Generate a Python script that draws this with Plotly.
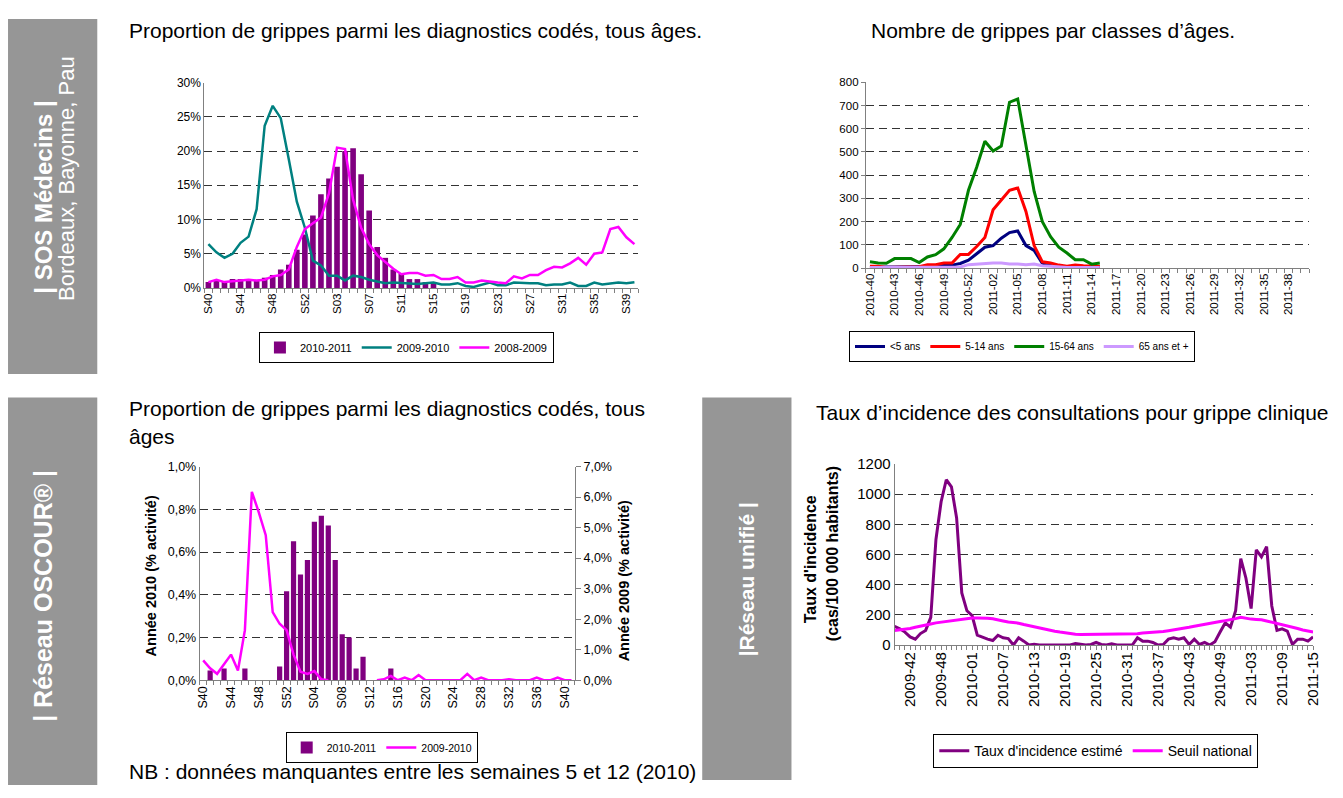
import plotly.graph_objects as go

# ---------------- DATA ----------------
# Chart 1 : SOS Médecins, proportion of flu among coded diagnoses (%)
WEEKS_SOS = [f"S{w:02d}" for w in range(40, 54)] + [f"S{w:02d}" for w in range(1, 41)]
SOS_2010_2011 = [0.86, 1.1, 0.86, 1.3, 1.3, 1.2, 1.1, 1.5, 1.9, 2.7, 3.4, 5.6, 7.8, 10.6,
                 13.7, 16.0, 17.7, 20.0, 20.4, 16.6, 11.3, 6.0, 4.4, 2.7, 2.1, 1.3, 1.3, 0.86, 0.86]
SOS_2009_2010 = [6.4, 5.2, 4.4, 5.0, 6.6, 7.5, 11.5, 23.7, 26.6, 24.8,
                 18.8, 12.6, 8.8, 4.0, 3.3, 1.8, 1.8, 1.1, 1.8, 1.6,
                 1.2, 0.9, 0.7, 0.8, 0.7, 0.7, 0.6, 0.7, 0.8, 0.5,
                 0.5, 0.7, 0.3, 0.15, 0.5, 0.8, 0.4, 0.4, 0.8, 0.7,
                 0.7, 0.7, 0.4, 0.5, 0.5, 0.8, 0.3, 0.3, 0.8, 0.5,
                 0.6, 0.8, 0.7, 0.85]
SOS_2008_2009 = [0.86, 1.2, 0.86, 1.0, 1.1, 1.2, 1.1, 1.2, 1.7, 1.9,
                 2.7, 6.0, 8.6, 9.5, 10.3, 13.8, 20.5, 20.3, 12.9, 8.8,
                 6.4, 4.8, 3.8, 2.8, 2.0, 2.2, 2.2, 1.8, 1.9, 1.3,
                 1.3, 1.6, 0.8, 0.8, 1.1, 0.9, 0.8, 0.7, 1.7, 1.4,
                 1.9, 1.9, 2.6, 3.1, 3.0, 3.6, 4.4, 3.4, 5.0, 5.2,
                 8.6, 8.9, 7.4, 6.4]
SOS_TICK_STEP = 4

# Chart 2 : number of flu cases by age class
WEEKS_AGE = [f"2010-{w:02d}" for w in range(40, 54)] + [f"2011-{w:02d}" for w in range(1, 41)]
AGE_LT5 = [3, 5, 5, 5, 5, 5, 5, 5, 8, 13, 13, 20, 34, 62, 90, 97, 129, 153, 160, 97,
           76, 20, 13, 8, 5, 5, 5, 5, 5]
AGE_5_14 = [8, 8, 3, 3, 6, 6, 6, 15, 15, 22, 22, 59, 59, 93, 132, 251, 293, 335, 345, 244,
            97, 27, 22, 13, 8, 13, 10, 8, 7]
AGE_15_64 = [27, 22, 21, 41, 41, 41, 24, 48, 58, 83, 132, 188, 335, 434, 546, 504, 525, 714, 728, 520,
             330, 200, 135, 90, 65, 36, 36, 17, 22]
AGE_65P = [3, 3, 3, 3, 3, 3, 3, 3, 3, 3, 3, 5, 15, 18, 20, 22, 22, 18, 18, 15,
           18, 10, 8, 5, 3, 3, 3, 3, 3]
AGE_TICK_STEP = 3

# Chart 3 : OSCOUR network (%)
WEEKS_OSC = [f"S{w:02d}" for w in range(40, 53)] + [f"S{w:02d}" for w in range(1, 42)]
OSC_2010_2011 = [0, 0.046, 0, 0.055, 0, 0, 0.055, 0, 0, 0, 0, 0.064, 0.417, 0.65,
                 0.495, 0.563, 0.742, 0.77, 0.724, 0.563, 0.215, 0.2, 0.055, 0.11, 0, 0, 0, 0.055]
OSC_2009_2010 = [0.65, 0.39, 0.21, 0.51, 0.84, 0.32, 1.64, 6.17, 5.5, 4.75,
                 2.23, 1.85, 1.64, 0.84, 0.28, 0.21, 0.3, 0.03, 0.0,
                 None, None, None, None, None, None,
                 0, 0.03, 0.14, 0, 0.09, 0, 0.17, 0, 0, 0,
                 0, 0, 0, 0.21, 0, 0.09, 0, 0, 0, 0.03,
                 0, 0, 0, 0.09, 0, 0, 0.09, 0, 0]
OSC_TICK_STEP = 4

# Chart 4 : unified network, incidence rate
WEEKS_INC = ([f"2009-{w:02d}" for w in range(39, 54)] + [f"2010-{w:02d}" for w in range(1, 53)]
             + [f"2011-{w:02d}" for w in range(1, 16)])
INCIDENCE = [123, 108, 86, 54, 39, 76, 97, 184, 700, 950,
             1096, 1049, 843, 346, 227, 195, 65, 50, 39, 30,
             65, 48, 43, 0, 48, 26, 0, 5, 0, 0,
             0, 0, 0, 0, 0, 10, 4, 0, 4, 17,
             4, 0, 9, 0, 0, 0, 0, 48, 26, 26,
             17, 0, 4, 39, 48, 39, 48, 4, 39, 4,
             17, 0, 22, 86, 147, 119, 227, 573, 443, 242,
             631, 584, 653, 259, 97, 108, 93, 4, 39, 39,
             26, 54]
SEUIL = [97, 100, 105, 110, 118, 127, 134, 140, 147, 152,
         158, 162, 167, 172, 177, 180, 180, 180, 178, 174,
         169, 160, 153, 150, 145, 136, 128, 120, 112, 105,
         98, 92, 86, 80, 75, 72, 70, 70, 70, 70,
         70, 70, 70, 70, 70, 70, 70, 75, 80, 82,
         84, 86, 90, 95, 100, 106, 112, 118, 125, 132,
         138, 145, 150, 156, 162, 167, 175, 184, 176, 172,
         170, 168, 160, 152, 145, 138, 130, 120, 110, 100,
         95, 86]
INC_TICK_START, INC_TICK_STEP = 3, 6

# ---------------- STYLE ----------------
PAGE_W, PAGE_H, BODY_MARGIN = 1343, 798, 8
W, H = PAGE_W - 2 * BODY_MARGIN, PAGE_H - 2 * BODY_MARGIN
FONT = "Arial, 'Liberation Sans', sans-serif"
PURPLE, TEAL, MAGENTA = "#800080", "#008080", "#FF00FF"
NAVY, RED, GREEN, LAV = "#000080", "#FF0000", "#008000", "#CC99FF"
BOX = "#969696"
GRID = dict(showgrid=True, gridcolor="#333333", gridwidth=1, griddash="8px,5px")


def fx(px):
    return (px - BODY_MARGIN) / W


def fy(py):
    return 1 - (py - BODY_MARGIN) / H


def pct(vals):
    return [None if v is None else v / 100 for v in vals]


fig = go.Figure()

# Chart 1
x1 = list(range(len(WEEKS_SOS)))
fig.add_trace(go.Bar(x=x1[:len(SOS_2010_2011)], y=pct(SOS_2010_2011), width=0.7,
                     marker=dict(color=PURPLE, line=dict(width=0)), name="2010-2011",
                     xaxis="x", yaxis="y", legend="legend"))
fig.add_trace(go.Scatter(x=x1, y=pct(SOS_2009_2010), mode="lines", line=dict(color=TEAL, width=2.5),
                         name="2009-2010", xaxis="x", yaxis="y", legend="legend"))
fig.add_trace(go.Scatter(x=x1, y=pct(SOS_2008_2009), mode="lines", line=dict(color=MAGENTA, width=2.5),
                         name="2008-2009", xaxis="x", yaxis="y", legend="legend"))

# Chart 2
x2 = list(range(len(WEEKS_AGE)))
for vals, col, nm in [(AGE_LT5, NAVY, "<5 ans"), (AGE_5_14, RED, "5-14 ans"),
                      (AGE_15_64, GREEN, "15-64 ans"), (AGE_65P, LAV, "65 ans et +")]:
    fig.add_trace(go.Scatter(x=x2[:len(vals)], y=vals, mode="lines", line=dict(color=col, width=3),
                             name=nm, xaxis="x2", yaxis="y2", legend="legend2"))

# Chart 3
x3 = list(range(len(WEEKS_OSC)))
fig.add_trace(go.Bar(x=x3[:len(OSC_2010_2011)], y=pct(OSC_2010_2011), width=0.75,
                     marker=dict(color=PURPLE, line=dict(width=0)), name="2010-2011",
                     xaxis="x3", yaxis="y3", legend="legend3"))
fig.add_trace(go.Scatter(x=x3, y=pct(OSC_2009_2010), mode="lines", line=dict(color=MAGENTA, width=2.5),
                         name="2009-2010", xaxis="x3", yaxis="y4", legend="legend3", connectgaps=False))

# Chart 4
x4 = list(range(len(WEEKS_INC)))
fig.add_trace(go.Scatter(x=x4, y=INCIDENCE, mode="lines", line=dict(color=PURPLE, width=3),
                         name="Taux d'incidence estimé", xaxis="x4", yaxis="y5", legend="legend4"))
fig.add_trace(go.Scatter(x=x4, y=SEUIL, mode="lines", line=dict(color=MAGENTA, width=3),
                         name="Seuil national", xaxis="x4", yaxis="y5", legend="legend4"))


def cat_axis(labels, step, start, lo, hi, size, rng, minor0):
    idx = list(range(start, len(labels), step))
    return dict(domain=[fx(lo), fx(hi)], range=rng, tickmode="array", tickvals=idx,
                ticktext=[labels[i] for i in idx], tickangle=-90, ticks="", showgrid=False,
                zeroline=False, showline=True, linecolor="#808080", linewidth=1,
                tickfont=dict(family=FONT, size=size, color="black"),
                minor=dict(tickmode="linear", tick0=minor0, dtick=1, ticks="outside",
                           ticklen=4, tickcolor="#808080", showgrid=False))


def val_axis(lo_px, hi_px, rng, dtick, size, fmt=None, **kw):
    d = dict(domain=[fy(lo_px), fy(hi_px)], range=rng, dtick=dtick, zeroline=False,
             showline=True, linecolor="#808080", linewidth=1,
             tickfont=dict(family=FONT, size=size, color="black"), **GRID)
    if fmt:
        d["tickformat"] = fmt
    d.update(kw)
    return d


legend_common = dict(orientation="h", bordercolor="black", borderwidth=1, bgcolor="white",
                     xanchor="left", yanchor="top", itemwidth=30, tracegroupgap=0)

fig.update_layout(
    width=W, height=H, margin=dict(l=0, r=0, t=0, b=0),
    paper_bgcolor="white", plot_bgcolor="white", separators=", ",
    font=dict(family=FONT, color="black"),
    xaxis=dict(cat_axis(WEEKS_SOS, SOS_TICK_STEP, 0, 203, 640.7, 11.5, [-0.5, 53.5], -0.5), anchor="y"),
    yaxis=val_axis(285, 75, [0, 0.3], 0.05, 12, ".0%", anchor="x"),
    xaxis2=dict(cat_axis(WEEKS_AGE, AGE_TICK_STEP, 0, 870, 1317, 11.5, [-0.5, 53.5], -0.5), anchor="y2"),
    yaxis2=val_axis(264.7, 74.7, [0, 800], 100, 11.5, anchor="x2", ticks="outside", ticklen=4,
                    tickcolor="#808080"),
    xaxis3=dict(cat_axis(WEEKS_OSC, OSC_TICK_STEP, 0, 198.3, 576.7, 12.5, [-0.5, 53.5], -0.5), anchor="y3"),
    yaxis3=val_axis(686, 467.5, [0, 0.01], 0.002, 12.5, ".1%", anchor="x3"),
    yaxis4=dict(overlaying="y3", side="right", anchor="x3", range=[0, 0.07], dtick=0.01,
                tickformat=".1%", showgrid=False, zeroline=False, showline=True,
                linecolor="#808080", ticks="outside", ticklen=5, tickcolor="#808080",
                tickfont=dict(family=FONT, size=12.5, color="black")),
    xaxis4=dict(cat_axis(WEEKS_INC, INC_TICK_STEP, INC_TICK_START, 899, 1321, 15, [0, 81], 0), anchor="y5"),
    yaxis5=val_axis(650, 465, [0, 1200], 200, 15, anchor="x4"),
    legend=dict(legend_common, x=fx(258), y=fy(330), font=dict(family=FONT, size=11)),
    legend2=dict(legend_common, x=fx(853), y=fy(329), font=dict(family=FONT, size=10)),
    legend3=dict(legend_common, x=fx(285), y=fy(739), font=dict(family=FONT, size=10.5)),
    legend4=dict(legend_common, x=fx(938), y=fy(741), font=dict(family=FONT, size=14)),
    showlegend=True,
)

# gray side boxes
for x0, y0, x1_, y1 in [(5, 10, 95, 373), (5, 397, 95, 793), (705, 397, 795, 788)]:
    fig.add_shape(type="rect", xref="paper", yref="paper", x0=fx(x0), x1=fx(x1_), y0=fy(y1), y1=fy(y0),
                  fillcolor=BOX, line=dict(width=0), layer="below")


def ann(text, x, y, size, xanchor="left", yanchor="middle", angle=0, bold=False, color="black"):
    t = f"<b>{text}</b>" if bold else text
    fig.add_annotation(text=t, x=fx(x), y=fy(y), xref="paper", yref="paper", showarrow=False,
                       xanchor=xanchor, yanchor=yanchor, textangle=angle,
                       font=dict(family=FONT, size=size, color=color))


ann("| SOS Médecins |", 40, 192, 24, xanchor="center", angle=-90, bold=True, color="white")
ann("Bordeaux, Bayonne, Pau", 64, 173, 22, xanchor="center", angle=-90, color="white")
ann("| Réseau OSCOUR® |", 40, 600, 25, xanchor="center", angle=-90, bold=True, color="white")
ann("|Réseau unifié |", 750, 583, 21, xanchor="center", angle=-90, bold=True, color="white")

ann("Proportion de grippes parmi les diagnostics codés, tous âges.", 125, 22, 21)
ann("Nombre de grippes par classes d’âges.", 873, 22, 21)
ann("Proportion de grippes parmi les diagnostics codés, tous", 125, 422, 21, yanchor="bottom")
ann("âges", 125, 423, 21, yanchor="top")
ann("Taux d’incidence des consultations pour grippe clinique", 818, 412, 21)
ann("NB : données manquantes entre les semaines 5 et 12 (2010)", 125, 779, 21)

ann("Année 2010 (% activité)", 149, 579, 14.5, xanchor="center", angle=-90, bold=True)
ann("Année 2009 (% activité)", 627, 584, 14.5, xanchor="center", angle=-90, bold=True)
ann("Taux d'incidence", 815, 562, 16, xanchor="center", angle=-90, bold=True)
ann("(cas/100 000 habitants)", 836, 557, 16, xanchor="center", angle=-90, bold=True)

fig.write_html("out.html", config={"displayModeBar": False})
